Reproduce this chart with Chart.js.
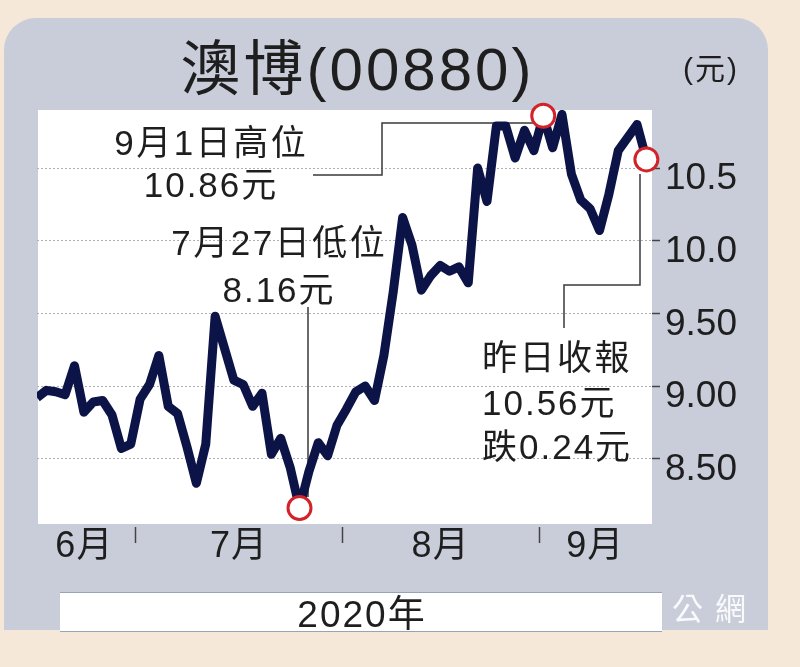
<!DOCTYPE html>
<html><head><meta charset="utf-8">
<script src="https://cdn.jsdelivr.net/npm/chart.js@4.4.1/dist/chart.umd.min.js"></script>
<style>html,body{margin:0;padding:0;background:#f5e8d8;overflow:hidden}canvas{display:block}</style>
</head><body>
<canvas id="c" width="800" height="667"></canvas>
<script>
// ---- data ----
const dates = [
  '6/15','6/16','6/17','6/18','6/19','6/22','6/23','6/24','6/26','6/29','6/30',
  '7/2','7/3','7/6','7/7','7/8','7/9','7/10','7/13','7/14','7/15','7/16','7/17','7/20','7/21','7/22','7/23','7/24','7/27','7/28','7/29','7/30','7/31',
  '8/3','8/4','8/5','8/6','8/7','8/10','8/11','8/12','8/13','8/14','8/17','8/18','8/19','8/20','8/21','8/24','8/25','8/26','8/27','8/28','8/31',
  '9/1','9/2','9/3','9/4','9/7','9/8','9/9','9/10','9/11','9/14','9/15','9/16'
];
const closes = [
  8.92, 8.97, 8.96, 8.94, 9.14, 8.82, 8.89, 8.90, 8.80, 8.57, 8.60,
  8.91, 9.01, 9.21, 8.86, 8.81, 8.58, 8.33, 8.60, 9.48, 9.26, 9.04, 9.01, 8.86, 8.95, 8.53, 8.64, 8.44, 8.16, 8.41, 8.61, 8.52, 8.73,
  8.84, 8.96, 9.00, 8.90, 9.21, 9.65, 10.16, 9.97, 9.66, 9.76, 9.83, 9.79, 9.82, 9.71, 10.50, 10.27, 10.79, 10.79, 10.57, 10.76, 10.62,
  10.86, 10.64, 10.87, 10.46, 10.28, 10.22, 10.07, 10.32, 10.62, 10.71, 10.80, 10.56
];
const highlightIdx = [28, 54, 65];
const yTickValues = [8.5, 9.0, 9.5, 10.0, 10.5];
const yTickLabels = ['8.50', '9.00', '9.50', '10.0', '10.5'];
const monthNames = {'6': '6月', '7': '7月', '8': '8月', '9': '9月'};
const titleText = '澳博(00880)';
const unitText = '(元)';
const yearText = '2020年';
const noteHigh = ['9月1日高位', '10.86元'];
const noteLow = ['7月27日低位', '8.16元'];
const noteLast = ['昨日收報', '10.56元', '跌0.24元'];
const watermarkText = '大公網';

// ---- helpers ----
const FONT = '"Liberation Sans", "Noto Sans CJK TC", sans-serif';
function txt(ctx, s, x, y, size, opts) {
  opts = opts || {};
  ctx.save();
  ctx.font = size + 'px ' + FONT;
  ctx.fillStyle = opts.color || '#1e1e1e';
  ctx.textBaseline = opts.baseline || 'alphabetic';
  const sp = opts.spacing || 0;
  let w;
  if ('letterSpacing' in ctx) { ctx.letterSpacing = sp + 'px'; w = ctx.measureText(s).width - sp; }
  else { w = ctx.measureText(s).width; }
  let left = x;
  if (opts.align === 'center') left = x - w / 2;
  else if (opts.align === 'right') left = x - w;
  ctx.textAlign = 'left';
  ctx.fillText(s, left, y);
  ctx.restore();
}

// month groups from the date labels
const monthGroups = [];
dates.forEach((d, i) => {
  const m = d.split('/')[0];
  const g = monthGroups[monthGroups.length - 1];
  if (g && g.m === m) g.last = i; else monthGroups.push({m: m, first: i, last: i});
});

const bgPlugin = {
  id: 'bg',
  beforeDraw(chart) {
    const ctx = chart.ctx, a = chart.chartArea;
    ctx.save();
    ctx.fillStyle = '#f5e8d8';
    ctx.fillRect(0, 0, chart.width, chart.height);
    ctx.fillStyle = '#c8cdd9';
    ctx.beginPath();
    ctx.roundRect(4, 18, 764, 612, [32, 32, 0, 0]);
    ctx.fill();
    ctx.fillStyle = '#ffffff';
    ctx.fillRect(a.left + 1, a.top, a.right - a.left - 1, a.bottom - a.top);
    // title and unit
    txt(ctx, titleText, 356, 90, 60, {align: 'center', spacing: 3});
    txt(ctx, unitText, 710, 79, 30, {align: 'center', spacing: 2});
    // watermark (under the year box)
    txt(ctx, watermarkText, 746, 620, 31, {align: 'right', spacing: 12, color: 'rgba(255,255,255,0.9)'});
    // year box
    ctx.fillStyle = '#ffffff';
    ctx.fillRect(60, 592, 602, 40);
    ctx.strokeStyle = '#9aa2b6';
    ctx.lineWidth = 1;
    ctx.beginPath();
    ctx.moveTo(60, 592.5); ctx.lineTo(662, 592.5);
    ctx.moveTo(60, 631.5); ctx.lineTo(662, 631.5);
    ctx.stroke();
    txt(ctx, yearText, 361, 627, 37, {align: 'center', spacing: 2});
    ctx.restore();
  }
};

const notePlugin = {
  id: 'notes',
  beforeDatasetsDraw(chart) {
    const ctx = chart.ctx;
    ctx.save();
    ctx.strokeStyle = '#3a3a3a';
    ctx.lineWidth = 1.5;
    ctx.beginPath();
    // high callout
    ctx.moveTo(313, 175); ctx.lineTo(382, 175); ctx.lineTo(382, 123); ctx.lineTo(535, 123);
    // low callout
    ctx.moveTo(308, 307); ctx.lineTo(308, 497);
    // last callout
    ctx.moveTo(640, 174); ctx.lineTo(640, 285); ctx.lineTo(564, 285); ctx.lineTo(564, 328);
    ctx.stroke();
    txt(ctx, noteHigh[0], 210, 155, 35, {align: 'center', spacing: 2.5});
    txt(ctx, noteHigh[1], 210, 197, 35, {align: 'center', spacing: 2});
    txt(ctx, noteLow[0], 278, 255, 35, {align: 'center', spacing: 2.5});
    txt(ctx, noteLow[1], 278, 302, 35, {align: 'center', spacing: 2});
    txt(ctx, noteLast[0], 482, 370, 35, {spacing: 2.5});
    txt(ctx, noteLast[1], 482, 415, 35, {spacing: 2});
    txt(ctx, noteLast[2], 482, 459, 35, {spacing: 2});
    ctx.restore();
  }
};

const monthPlugin = {
  id: 'months',
  afterDraw(chart) {
    const ctx = chart.ctx, xs = chart.scales.x;
    ctx.save();
    monthGroups.forEach((g, k) => {
      const cx = xs.getPixelForValue((g.first + g.last) / 2);
      txt(ctx, monthNames[g.m], cx, 557, 36, {align: 'center', spacing: 1});
      if (k < monthGroups.length - 1) {
        const bx = Math.round(xs.getPixelForValue(g.last + 0.5)) + 0.5;
        ctx.strokeStyle = '#444';
        ctx.lineWidth = 1.5;
        ctx.beginPath(); ctx.moveTo(bx, 527); ctx.lineTo(bx, 543); ctx.stroke();
      }
    });
    ctx.restore();
  }
};

new Chart(document.getElementById('c'), {
  type: 'line',
  data: {
    labels: dates,
    datasets: [
      {
        data: closes.map((v, i) => ({x: i, y: v})),
        borderColor: '#0c1447',
        borderWidth: 9,
        pointRadius: 0,
        tension: 0,
        fill: false,
        borderJoinStyle: 'round',
        order: 2
      },
      {
        data: highlightIdx.map(i => ({x: i, y: closes[i]})),
        showLine: false,
        pointRadius: 11.5,
        pointBorderWidth: 3,
        pointBackgroundColor: '#ffffff',
        pointBorderColor: '#d2232a',
        clip: false,
        order: 1
      }
    ]
  },
  options: {
    responsive: false,
    devicePixelRatio: 1,
    animation: false,
    layout: {padding: {left: 37, top: 110, right: 0, bottom: 143}},
    plugins: {legend: {display: false}, tooltip: {enabled: false}, title: {display: false}},
    scales: {
      x: {type: 'linear', min: 0, max: 65.6, display: false},
      y: {
        position: 'right',
        min: 8.05,
        max: 10.90,
        afterBuildTicks: s => { s.ticks = yTickValues.map(v => ({value: v})); },
        afterFit: s => { s.width = 148; },
        grid: {color: '#b0b0b0', lineWidth: 1, drawTicks: true, tickLength: 8, tickColor: '#444', tickWidth: 1.5, tickBorderDash: []},
        border: {display: false, dash: [2, 2]},
        ticks: {
          padding: 5,
          color: '#1e1e1e',
          font: {family: FONT, size: 37},
          labelOffset: 11,
          callback: (v, i) => yTickLabels[i]
        }
      }
    }
  },
  plugins: [bgPlugin, notePlugin, monthPlugin]
});
</script>
</body></html>
